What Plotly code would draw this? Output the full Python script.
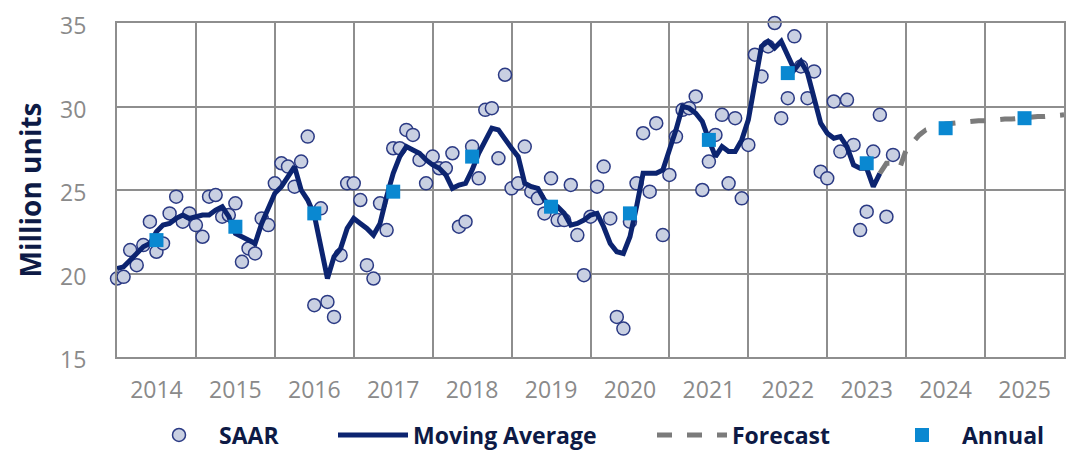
import plotly.graph_objects as go

# ---------------- data ----------------
years = list(range(2014, 2026))
year_labels = [str(y) for y in years]
y_ticks = [15, 20, 25, 30, 35]

# Monthly SAAR (million units), Jan 2014 - Nov 2023
saar_2014 = [19.7, 19.8, 21.4, 20.5, 21.7, 23.1, 21.3, 21.8, 23.6, 24.6, 23.1, 23.6]
saar_2015 = [22.9, 22.2, 24.6, 24.7, 23.4, 23.5, 24.2, 20.7, 21.5, 21.2, 23.3, 22.9]
saar_2016 = [25.4, 26.6, 26.4, 25.2, 26.7, 28.2, 18.1, 23.9, 18.3, 17.4, 21.1, 25.4]
saar_2017 = [25.4, 24.4, 20.5, 19.7, 24.2, 22.6, 27.5, 27.5, 28.6, 28.3, 26.8, 25.4]
saar_2018 = [27.0, 26.3, 26.3, 27.2, 22.8, 23.1, 27.6, 25.7, 29.8, 29.9, 26.9, 31.9]
saar_2019 = [25.1, 25.4, 27.6, 24.9, 24.5, 23.6, 25.7, 23.2, 23.2, 25.3, 22.3, 19.9]
saar_2020 = [23.4, 25.2, 26.4, 23.3, 17.4, 16.7, 23.1, 25.4, 28.4, 24.9, 29.0, 22.3]
saar_2021 = [25.9, 28.2, 29.8, 29.9, 30.6, 25.0, 26.7, 28.3, 29.5, 25.4, 29.3, 24.5]
saar_2022 = [27.7, 33.1, 31.8, 33.6, 35.0, 29.3, 30.5, 34.2, 32.4, 30.5, 32.1, 26.1]
saar_2023 = [25.7, 30.3, 27.3, 30.4, 27.7, 22.6, 23.7, 27.3, 29.5, 23.4, 27.1]

# Moving average, Jan 2014 - Sep 2023
ma_2014 = [20.3, 20.4, 20.8, 21.2, 21.6, 21.8, 22.5, 22.9, 23.0, 23.3, 23.5, 23.3]
ma_2015 = [23.4, 23.5, 23.5, 23.8, 24.0, 23.4, 22.4, 22.2, 22.0, 21.8, 23.0, 24.0]
ma_2016 = [24.8, 25.2, 25.8, 26.4, 25.0, 24.4, 23.5, 21.4, 19.7, 21.0, 21.5, 22.7]
ma_2017 = [23.3, 23.0, 22.7, 22.3, 23.0, 24.6, 26.0, 27.0, 27.6, 27.4, 27.2, 26.8]
ma_2018 = [26.5, 26.3, 25.9, 25.1, 25.3, 25.4, 26.2, 27.2, 28.0, 28.7, 28.6, 28.0]
ma_2019 = [27.5, 27.0, 25.4, 25.2, 25.1, 24.4, 24.0, 24.0, 23.6, 22.9, 23.0, 23.2]
ma_2020 = [23.5, 23.6, 22.8, 21.8, 21.3, 21.2, 22.2, 24.0, 26.0, 26.0, 26.0, 26.2]
ma_2021 = [27.3, 28.6, 30.0, 29.9, 29.6, 29.1, 28.0, 27.0, 27.6, 27.3, 27.3, 28.0]
ma_2022 = [29.2, 31.6, 33.6, 33.9, 33.5, 33.9, 33.0, 32.2, 32.7, 32.0, 30.5, 29.0]
ma_2023 = [28.4, 28.1, 28.2, 27.6, 26.5, 26.3, 26.3, 25.2, 26.0]

# Forecast, Sep 2023 - Jan 2026
forecast_vals = [26.0, 26.6, 26.6, 26.3,
                 27.4, 27.9, 28.3, 28.6, 28.75, 28.85, 28.95, 29.0, 29.05, 29.1, 29.1, 29.15,
                 29.15, 29.2, 29.2, 29.25, 29.25, 29.3, 29.3, 29.35, 29.4, 29.4, 29.45, 29.5,
                 29.5]

# Annual totals
annual_vals = [22.0, 22.8, 23.6, 24.9, 27.0, 24.0, 23.6, 28.0, 32.0, 26.6, 28.7, 29.3]

saar = (saar_2014 + saar_2015 + saar_2016 + saar_2017 + saar_2018 +
        saar_2019 + saar_2020 + saar_2021 + saar_2022 + saar_2023)
ma = (ma_2014 + ma_2015 + ma_2016 + ma_2017 + ma_2018 +
      ma_2019 + ma_2020 + ma_2021 + ma_2022 + ma_2023)

saar_x = [2014 + i / 12 for i in range(len(saar))]
ma_x = [2014 + i / 12 for i in range(len(ma))]
fc_start = ma_x[-1]
fc_x = [fc_start + i / 12 for i in range(len(forecast_vals))]
annual_x = [y + 0.5 for y in years]

# ---------------- style ----------------
NAVY = "#0c2470"
TEXT_NAVY = "#0d1a45"
GRID = "#8e8e8e"
TICK = "#8a8a8a"
FONT = "Open Sans"

fig = go.Figure()
fig.add_trace(go.Scatter(
    x=saar_x, y=saar, mode="markers", name="SAAR",
    marker=dict(symbol="circle", size=13, color="#c9d0e2",
                line=dict(color="#2b3a84", width=1.5)),
    cliponaxis=False, legend="legend"))
fig.add_trace(go.Scatter(
    x=ma_x, y=ma, mode="lines", name="Moving Average",
    line=dict(color=NAVY, width=5), legend="legend2"))
fig.add_trace(go.Scatter(
    x=fc_x, y=forecast_vals, mode="lines", name="Forecast",
    line=dict(color="#7b7b7b", width=5, dash="dash"), legend="legend3"))
fig.add_trace(go.Scatter(
    x=annual_x, y=annual_vals, mode="markers", name="Annual",
    marker=dict(symbol="square", size=14, color="#0a88d1"),
    cliponaxis=False, legend="legend4"))

leg_font = dict(family=FONT, size=23, color=TEXT_NAVY, weight="bold")

# page pixel geometry of the plot area (page has an 8px body offset)
PLOT_L, PLOT_R, PLOT_T, PLOT_B = 117, 1064, 23, 357
OFFSET = 8
FIG_W, FIG_H = 1068, 447


def px2paper_x(px):
    return (px - PLOT_L) / (PLOT_R - PLOT_L)


def px2paper_y(py):
    return (PLOT_B - py) / (PLOT_B - PLOT_T)


legend_common = dict(orientation="h", yanchor="middle", y=px2paper_y(435), xanchor="left",
                     font=leg_font, bgcolor="rgba(0,0,0,0)", borderwidth=0, itemwidth=70)

fig.update_layout(
    width=FIG_W, height=FIG_H,
    margin=dict(l=PLOT_L - OFFSET, r=FIG_W - (PLOT_R - OFFSET), t=PLOT_T - OFFSET,
                b=FIG_H - (PLOT_B - OFFSET), autoexpand=False),
    plot_bgcolor="white", paper_bgcolor="white",
    font=dict(family=FONT),
    showlegend=True,
    legend=dict(x=px2paper_x(139), **legend_common),
    legend2=dict(x=px2paper_x(333), **legend_common),
    legend3=dict(x=px2paper_x(652), **legend_common),
    legend4=dict(x=px2paper_x(882), **legend_common),
    xaxis=dict(
        range=[2014, 2026], tickmode="array", tickvals=annual_x, ticktext=year_labels,
        showgrid=False, zeroline=False, automargin=False, ticklabeloverflow="allow",
        showline=True, mirror=True, linecolor=GRID, linewidth=2,
        tickfont=dict(family=FONT, size=23, color=TICK),
        ticks="", ticklabelstandoff=11,
        minor=dict(tickmode="array", tickvals=years[1:], showgrid=True,
                   gridcolor=GRID, gridwidth=2, ticks=""),
    ),
    yaxis=dict(
        range=[15, 35], tickmode="array", tickvals=y_ticks,
        showgrid=True, gridcolor=GRID, gridwidth=2, zeroline=False, automargin=False,
        ticklabeloverflow="allow", ticklabelshift=3,
        showline=True, mirror=True, linecolor=GRID, linewidth=2,
        tickfont=dict(family=FONT, size=23, color=TICK),
        ticks="", ticklabelstandoff=24,
        title=dict(text="Million units", standoff=10,
                   font=dict(family=FONT, size=28, color=TEXT_NAVY, weight="bold")),
    ),
)

fig.write_html("out.html")
